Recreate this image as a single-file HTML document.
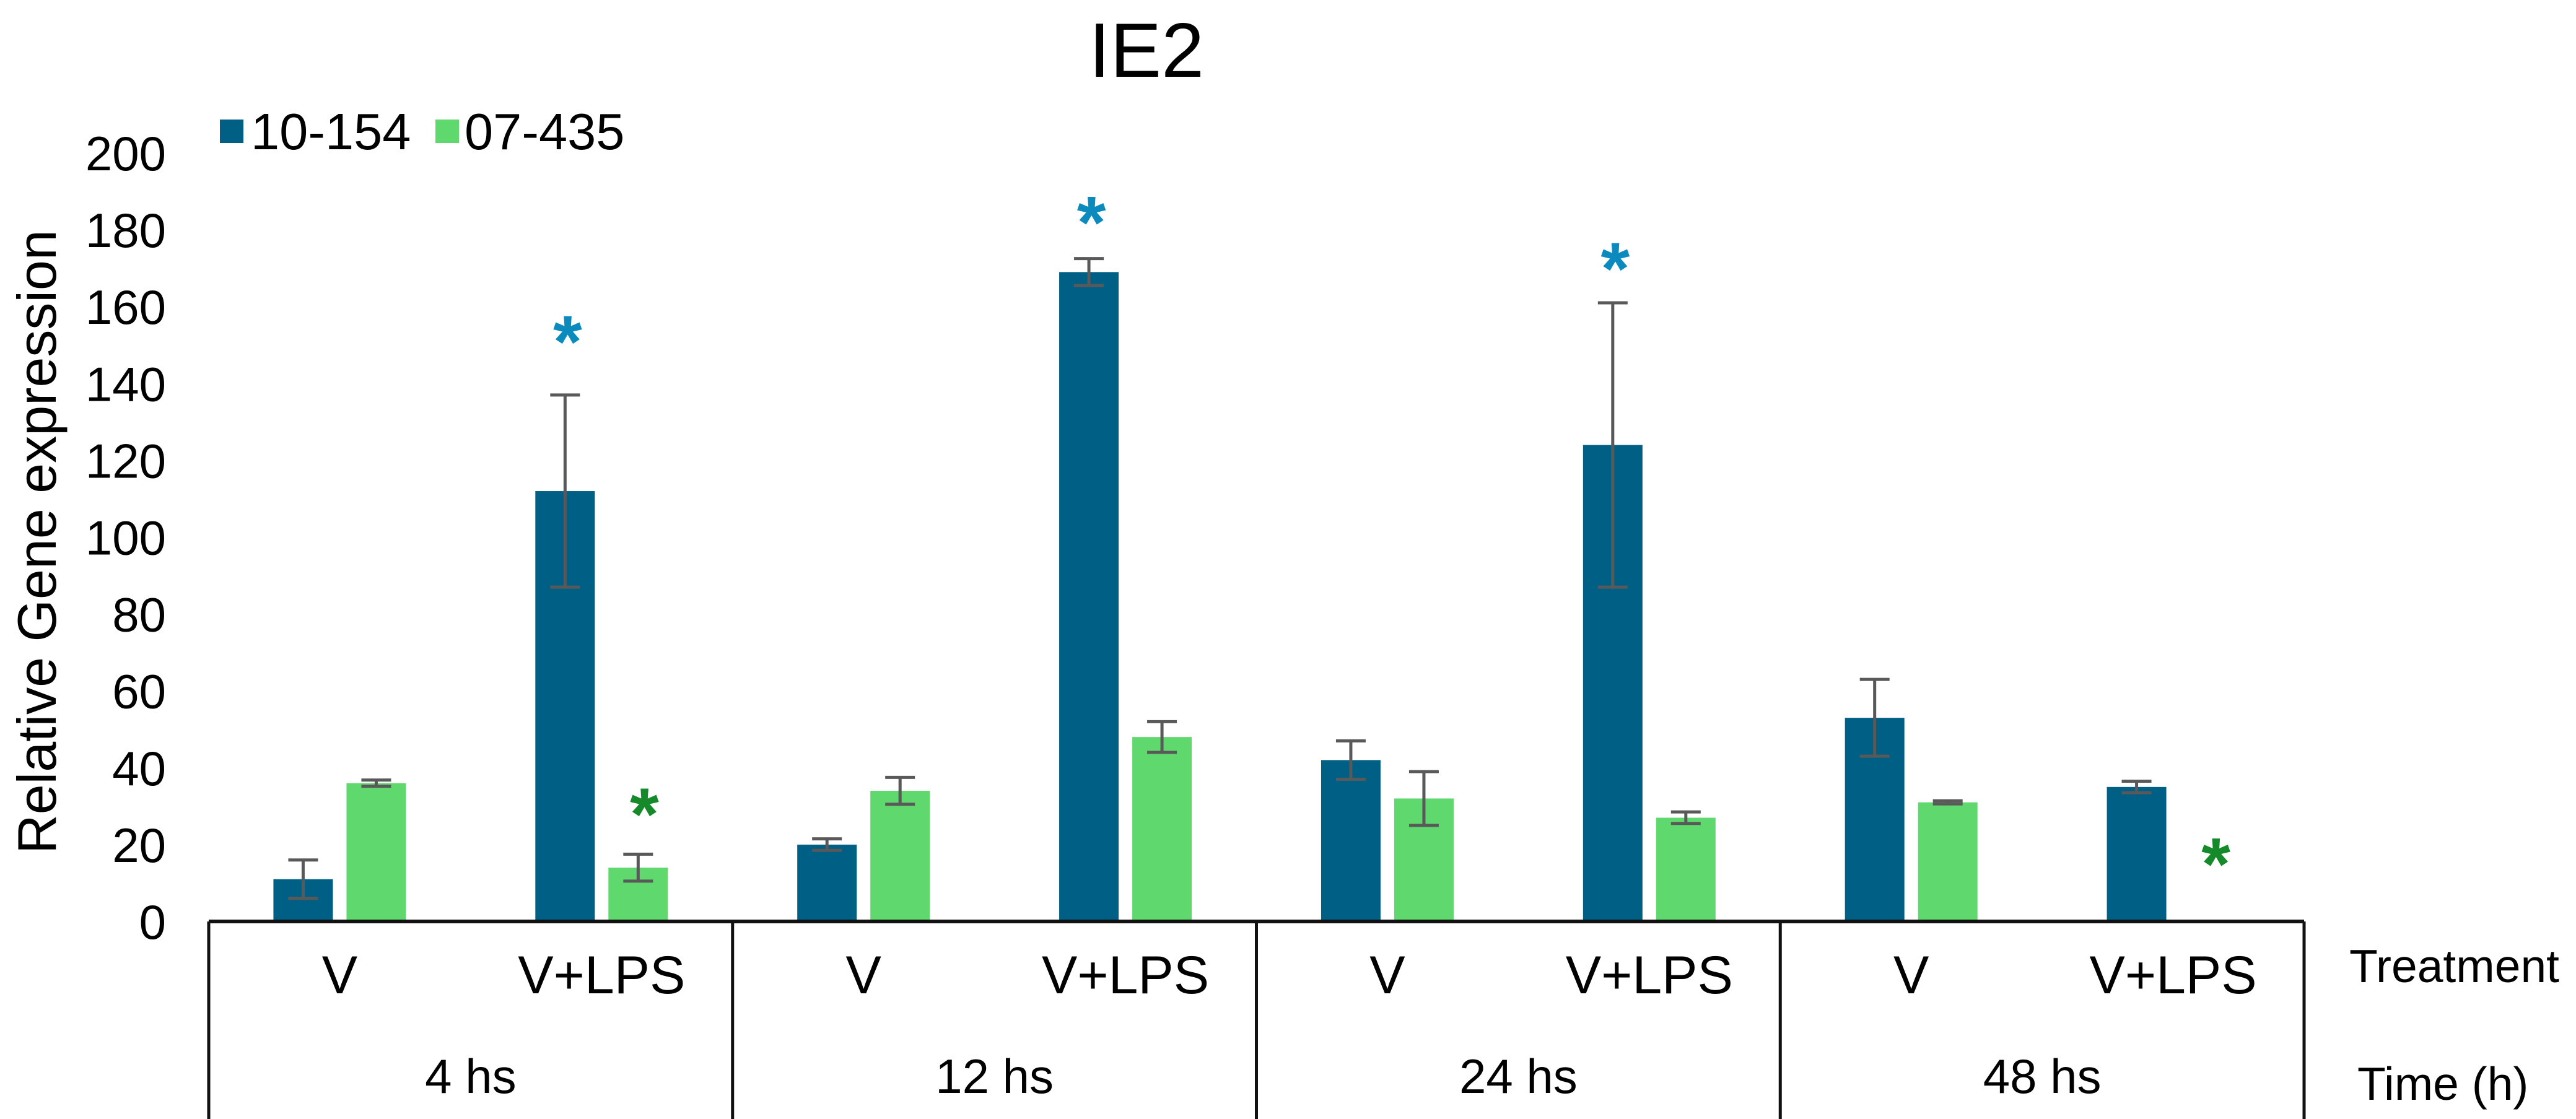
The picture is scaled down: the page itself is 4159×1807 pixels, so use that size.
<!DOCTYPE html>
<html><head><meta charset="utf-8"><style>
html,body{margin:0;padding:0;background:#fff;}
svg{display:block;font-family:"Liberation Sans",Arial,sans-serif;}
</style></head><body>
<svg id="chart" width="4159" height="1807" viewBox="0 0 4159 1807">
<text x="1851" y="124" font-size="124" text-anchor="middle" fill="#000">IE2</text>
<g>
<rect x="355" y="193" width="38" height="38" fill="#005f85"/>
<text x="405" y="241" font-size="83" fill="#000">10-154</text>
<rect x="703" y="193" width="38" height="38" fill="#5fd96e"/>
<text x="750" y="241" font-size="83" fill="#000">07-435</text>
</g>
<text transform="translate(90,875) rotate(-90)" font-size="88" text-anchor="middle" fill="#000">Relative Gene expression</text>
<g id="yticks"></g>
<g id="bars"></g>
<g id="xaxis"></g>
<text x="3793" y="1586" font-size="75" fill="#000">Treatment</text>
<text x="3806" y="1776" font-size="75" fill="#000">Time (h)</text>
</svg>
<script>
const treatments = ["V","V+LPS","V","V+LPS","V","V+LPS","V","V+LPS"];
const times = ["4 hs","12 hs","24 hs","48 hs"];
const blueValues = [11,112,20,169,42,124,53,35];
const blueErrors = [5,25,1.5,3.5,5,37,10,1.5];
const greenValues = [36,14,34,48,32,27,31,null];
const greenErrors = [0.8,3.5,3.5,4,7,1.5,0.4,null];
const blueStarLevels = [null,152,null,183,null,171,null,null];
const greenStarLevels = [null,29,null,null,null,null,null,16];
const yTicks = [0,20,40,60,80,100,120,140,160,180,200];

const NS="http://www.w3.org/2000/svg";
const x0=337, x1=3720, y0=1488, yTop=247, yMax=200;
const catW=(x1-x0)/treatments.length;
const y=v=>y0-(v/yMax)*(y0-yTop);
const cx=k=>x0+catW*(k+0.5);
function mk(tag,attrs,parent){const e=document.createElementNS(NS,tag);for(const k in attrs)e.setAttribute(k,attrs[k]);parent.appendChild(e);return e;}
const yt=document.getElementById('yticks');
yTicks.forEach(t=>{const e=mk('text',{x:268,y:y(t)+28,'font-size':78,'text-anchor':'end',fill:'#000'},yt);e.textContent=t;

});
const bars=document.getElementById('bars');
const bw=96, off=59;
function errBar(xc,v,err){
  const l=mk('line',{x1:xc,x2:xc,y1:y(v+err),y2:y(v-err),stroke:'#595959','stroke-width':5},bars);
  
  
  [v+err,v-err].forEach(vv=>{const c=mk('line',{x1:xc-24,x2:xc+24,y1:y(vv),y2:y(vv),stroke:'#595959','stroke-width':5},bars);
  
  });
}
function star(xc,yc,color){const s=mk('text',{x:xc,y:yc+48,'font-size':120,'font-weight':'bold','text-anchor':'middle',fill:color},bars);s.textContent='*';

}
treatments.forEach((t,k)=>{
  const bx=cx(k)-off, gx=cx(k)+off;
  const b=mk('rect',{x:bx-bw/2,y:y(blueValues[k]),width:bw,height:y0-y(blueValues[k]),fill:'#005f85'},bars);
  
  
  errBar(bx,blueValues[k],blueErrors[k]);
  if(greenValues[k]!==null){
    const g=mk('rect',{x:gx-bw/2,y:y(greenValues[k]),width:bw,height:y0-y(greenValues[k]),fill:'#5fd96e'},bars);
    
    
    errBar(gx,greenValues[k],greenErrors[k]);
  }
  if(blueStarLevels[k]!==null) star(bx+4,y(blueStarLevels[k]),'#0b8bbd');
  if(greenStarLevels[k]!==null) star(gx+10,y(greenStarLevels[k]),'#168a2a');
});
const xa=document.getElementById('xaxis');
const base=mk('line',{x1:x0,x2:x1,y1:y0,y2:y0,stroke:'#111','stroke-width':6},xa);


for(let i=0;i<=times.length;i++){
  const xx=x0+catW*2*i;
  const l=mk('line',{x1:xx,x2:xx,y1:y0,y2:1807,stroke:'#111','stroke-width':5},xa);
  
  
}
treatments.forEach((t,k)=>{const e=mk('text',{x:cx(k),y:1604,'font-size':86,'text-anchor':'middle',fill:'#000'},xa);e.textContent=t;

});
times.forEach((t,i)=>{const e=mk('text',{x:x0+catW*(2*i+1),y:1765,'font-size':78,'text-anchor':'middle',fill:'#000'},xa);e.textContent=t;

});
</script>
</body></html>
